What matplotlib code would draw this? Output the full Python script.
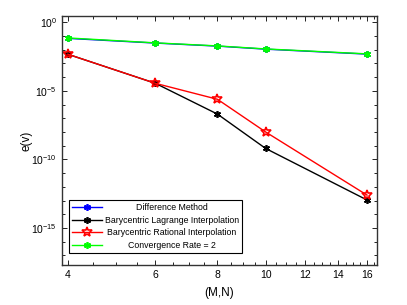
import matplotlib
matplotlib.use("Agg")
import matplotlib.pyplot as plt
from matplotlib.ticker import FixedLocator, NullFormatter

plt.rcParams['font.family'] = ['Liberation Sans', 'DejaVu Sans']

# grid sizes (M,N)
mn = [4, 6, 8, 10, 16]

# errors
err_diff = [0.066, 0.030, 0.018, 0.0108, 0.0047]
err_lagr = [4.6e-3, 3.5e-5, 2.0e-7, 6.3e-10, 1.1e-13]
err_rat = [4.6e-3, 3.5e-5, 2.4e-6, 1.0e-8, 2.5e-13]
err_rate2 = [0.071, 0.031, 0.0186, 0.0112, 0.0049]

labels = ["Difference Method", "Barycentric Lagrange Interpolation",
          "Barycentric Rational Interpolation", "Convergence Rate = 2"]
xtick_vals = [4, 6, 8, 10, 12, 14, 16]
ytick_vals = [1e0, 1e-5, 1e-10, 1e-15]

asterisk = (6, 2, 0)

fig = plt.figure(figsize=(4.07, 3.05), dpi=100)
ax = fig.add_axes([0.152, 0.131, 0.774, 0.817])

ax.plot(mn, err_diff, '-', color='blue', marker=asterisk, ms=5, mew=1.2, lw=1, label=labels[0])
ax.plot(mn, err_lagr, '-', color='black', marker=asterisk, ms=5, mew=1.2, lw=1, label=labels[1])
ax.plot(mn, err_rat, '-', color='red', marker='*', ms=7.5, mfc='none', mew=1.2, lw=1, label=labels[2])
ax.plot(mn, err_rate2, '-', color=(0, 1, 0), marker=asterisk, ms=5, mew=1.2, lw=1, label=labels[3])

ax.set_xscale('log')
ax.set_yscale('log')
ax.set_xlim(3.89, 16.75)
ax.set_ylim(10**-17.7, 10**0.46)

ax.xaxis.set_major_locator(FixedLocator(xtick_vals))
ax.set_xticklabels([str(v) for v in xtick_vals])
ax.xaxis.set_minor_locator(FixedLocator([v / 2 for v in range(8, 34)]))
ax.xaxis.set_minor_formatter(NullFormatter())
ax.yaxis.set_major_locator(FixedLocator(ytick_vals))
ax.yaxis.set_minor_locator(FixedLocator([10.0 ** -k for k in range(0, 18)]))
ax.yaxis.set_minor_formatter(NullFormatter())

ax.tick_params(which='both', direction='in', top=True, right=True, labelsize=7.5, width=0.6)
ax.tick_params(which='major', length=3.5)
ax.tick_params(which='minor', length=2)
for s in ax.spines.values():
    s.set_linewidth(1)
    s.set_color('#333333')

ax.set_xlabel("(M,N)", fontsize=8.5, labelpad=5)
ax.set_ylabel("e(v)", fontsize=8.5, labelpad=-1)

leg = ax.legend(loc='lower left', bbox_to_anchor=(0.0095, 0.032), fontsize=6.3,
                handlelength=3.4, handletextpad=0.3, borderpad=0.35, labelspacing=0.4,
                fancybox=False, edgecolor='black', framealpha=1)
leg.get_frame().set_linewidth(0.8)

# centre the legend texts like the original
renderer = fig.canvas.get_renderer()
widths = [t.get_window_extent(renderer).width for t in leg.get_texts()]
wmax = max(widths)
for t, w in zip(leg.get_texts(), widths):
    t.set_x((wmax - w) / 2)

fig.savefig("out.png", dpi=100)
